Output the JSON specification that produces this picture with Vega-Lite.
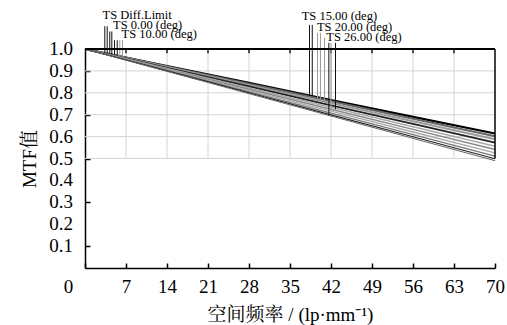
{
  "$schema": "https://vega.github.io/schema/vega-lite/v6.json",
  "width": 410,
  "height": 219,
  "autosize": "none",
  "padding": {"left": 85, "top": 49, "right": 12, "bottom": 57},
  "background": "white",
  "config": {
    "view": {"stroke": null},
    "font": "Liberation Serif",
    "axis": {
      "grid": false,
      "domainColor": "black", "domainWidth": 1.5,
      "tickColor": "black", "tickWidth": 1.5, "tickSize": -5,
      "labelFont": "Liberation Serif", "labelFontSize": 19, "labelColor": "black",
      "labelOverlap": false, "labelFlush": false, "labelBound": false,
      "titleFont": "Liberation Serif, Noto Serif CJK SC, Noto Sans CJK SC",
      "titleFontSize": 19, "titleFontWeight": "normal", "titleColor": "black"
    },
    "axisX": {"labelPadding": 14, "titlePadding": 9},
    "axisY": {"titlePadding": 45}
  },
  "datasets": {
    "vgrid": [{"x": 7}, {"x": 14}, {"x": 21}, {"x": 28}, {"x": 35}, {"x": 42}, {"x": 49}, {"x": 56}, {"x": 63}],
    "hgrid": [{"y": 0.5}, {"y": 0.6}, {"y": 0.7}, {"y": 0.8}, {"y": 0.9}],
    "ylabels": [{"y": 0.1}, {"y": 0.2}, {"y": 0.3}, {"y": 0.4}, {"y": 0.5}, {"y": 0.6}, {"y": 0.7}, {"y": 0.8}, {"y": 0.9}, {"y": 1.0}],
    "curves": [
      {"series": "Diff.Limit", "x": 0, "y": 1}, {"series": "Diff.Limit", "x": 14, "y": 0.922}, {"series": "Diff.Limit", "x": 28, "y": 0.845}, {"series": "Diff.Limit", "x": 42, "y": 0.767}, {"series": "Diff.Limit", "x": 56, "y": 0.69}, {"series": "Diff.Limit", "x": 70, "y": 0.614},
      {"series": "0.00", "x": 0, "y": 1}, {"series": "0.00", "x": 14, "y": 0.92}, {"series": "0.00", "x": 28, "y": 0.841}, {"series": "0.00", "x": 42, "y": 0.761}, {"series": "0.00", "x": 56, "y": 0.682}, {"series": "0.00", "x": 70, "y": 0.602},
      {"series": "10.00 T", "x": 0, "y": 1}, {"series": "10.00 T", "x": 14, "y": 0.918}, {"series": "10.00 T", "x": 28, "y": 0.835}, {"series": "10.00 T", "x": 42, "y": 0.753}, {"series": "10.00 T", "x": 56, "y": 0.67}, {"series": "10.00 T", "x": 70, "y": 0.588},
      {"series": "10.00 S", "x": 0, "y": 1}, {"series": "10.00 S", "x": 14, "y": 0.914}, {"series": "10.00 S", "x": 28, "y": 0.829}, {"series": "10.00 S", "x": 42, "y": 0.743}, {"series": "10.00 S", "x": 56, "y": 0.658}, {"series": "10.00 S", "x": 70, "y": 0.572},
      {"series": "15.00 T", "x": 0, "y": 1}, {"series": "15.00 T", "x": 14, "y": 0.911}, {"series": "15.00 T", "x": 28, "y": 0.822}, {"series": "15.00 T", "x": 42, "y": 0.734}, {"series": "15.00 T", "x": 56, "y": 0.645}, {"series": "15.00 T", "x": 70, "y": 0.556},
      {"series": "15.00 S", "x": 0, "y": 1}, {"series": "15.00 S", "x": 14, "y": 0.908}, {"series": "15.00 S", "x": 28, "y": 0.816}, {"series": "15.00 S", "x": 42, "y": 0.725}, {"series": "15.00 S", "x": 56, "y": 0.633}, {"series": "15.00 S", "x": 70, "y": 0.541},
      {"series": "20.00 T", "x": 0, "y": 1}, {"series": "20.00 T", "x": 14, "y": 0.905}, {"series": "20.00 T", "x": 28, "y": 0.81}, {"series": "20.00 T", "x": 42, "y": 0.716}, {"series": "20.00 T", "x": 56, "y": 0.621}, {"series": "20.00 T", "x": 70, "y": 0.526},
      {"series": "20.00 S", "x": 0, "y": 1}, {"series": "20.00 S", "x": 14, "y": 0.902}, {"series": "20.00 S", "x": 28, "y": 0.804}, {"series": "20.00 S", "x": 42, "y": 0.707}, {"series": "20.00 S", "x": 56, "y": 0.609}, {"series": "20.00 S", "x": 70, "y": 0.511},
      {"series": "26.00 T", "x": 0, "y": 1}, {"series": "26.00 T", "x": 14, "y": 0.9}, {"series": "26.00 T", "x": 28, "y": 0.8}, {"series": "26.00 T", "x": 42, "y": 0.699}, {"series": "26.00 T", "x": 56, "y": 0.599}, {"series": "26.00 T", "x": 70, "y": 0.499},
      {"series": "26.00 S", "x": 0, "y": 1}, {"series": "26.00 S", "x": 14, "y": 0.898}, {"series": "26.00 S", "x": 28, "y": 0.796}, {"series": "26.00 S", "x": 42, "y": 0.694}, {"series": "26.00 S", "x": 56, "y": 0.592}, {"series": "26.00 S", "x": 70, "y": 0.49}
    ],
    "leadersBlack": [
      {"x": 3.38, "y": 1.104, "y2": 0.981}, {"x": 3.79, "y": 1.104, "y2": 0.979},
      {"x": 4.23, "y": 1.08, "y2": 0.977}, {"x": 4.58, "y": 1.08, "y2": 0.975},
      {"x": 5.04, "y": 1.04, "y2": 0.972}, {"x": 5.5, "y": 1.04, "y2": 0.97},
      {"x": 38.33, "y": 1.11, "y2": 0.787}, {"x": 38.8, "y": 1.11, "y2": 0.785},
      {"x": 41.63, "y": 1.028, "y2": 0.697}, {"x": 42.77, "y": 1.028, "y2": 0.725}
    ],
    "leadersGray": [
      {"x": 5.94, "y": 1.04, "y2": 0.967}, {"x": 6.4, "y": 1.04, "y2": 0.965},
      {"x": 39.7, "y": 1.074, "y2": 0.775}, {"x": 40.2, "y": 1.074, "y2": 0.765},
      {"x": 40.9, "y": 1.05, "y2": 0.755}, {"x": 42.0, "y": 1.028, "y2": 0.73}
    ],
    "labels": [
      {"label": "TS Diff.Limit", "x": 3.0, "y": 1.135},
      {"label": "TS 0.00 (deg)", "x": 4.8, "y": 1.092},
      {"label": "TS 10.00 (deg)", "x": 6.25, "y": 1.051},
      {"label": "TS 15.00 (deg)", "x": 37.0, "y": 1.131},
      {"label": "TS 20.00 (deg)", "x": 39.6, "y": 1.084},
      {"label": "TS 26.00 (deg)", "x": 41.2, "y": 1.037}
    ]
  },
  "layer": [
    {
      "data": {"name": "vgrid"},
      "mark": {"type": "rule", "color": "#d4d4d4", "strokeWidth": 1},
      "encoding": {
        "x": {"field": "x", "type": "quantitative", "scale": {"domain": [0, 70], "nice": false}},
        "y": {"datum": 0.5, "type": "quantitative", "scale": {"domain": [0, 1], "nice": false}},
        "y2": {"datum": 1}
      }
    },
    {
      "data": {"name": "hgrid"},
      "mark": {"type": "rule", "color": "#d4d4d4", "strokeWidth": 1},
      "encoding": {
        "y": {"field": "y", "type": "quantitative", "scale": {"domain": [0, 1], "nice": false}},
        "x": {"datum": 0, "type": "quantitative", "scale": {"domain": [0, 70], "nice": false}},
        "x2": {"datum": 70}
      }
    },
    {
      "data": {"name": "vgrid"},
      "mark": {"type": "rule", "color": "black", "strokeWidth": 1.3},
      "encoding": {
        "x": {"field": "x", "type": "quantitative", "scale": {"domain": [0, 70], "nice": false}},
        "y": {"datum": 0.981, "type": "quantitative", "scale": {"domain": [0, 1], "nice": false}},
        "y2": {"datum": 1}
      }
    },
    {
      "data": {"name": "curves"},
      "mark": {"type": "line"},
      "encoding": {
        "x": {
          "field": "x", "type": "quantitative",
          "scale": {"domain": [0, 70], "nice": false},
          "axis": {
            "values": [0, 7, 14, 21, 28, 35, 42, 49, 56, 63, 70],
            "title": "空间频率 / (lp·mm⁻¹)",
            "labelOffset": {"condition": {"test": "datum.value === 0", "value": -17}, "value": 0}
          }
        },
        "y": {
          "field": "y", "type": "quantitative",
          "scale": {"domain": [0, 1], "nice": false},
          "axis": {
            "values": [0.1, 0.2, 0.3, 0.4, 0.5, 0.6, 0.7, 0.8, 0.9, 1.0],
            "labels": false,
            "title": "MTF值"
          }
        },
        "detail": {"field": "series"},
        "color": {
          "field": "series", "type": "nominal", "legend": null,
          "scale": {
            "domain": ["Diff.Limit", "0.00", "10.00 T", "10.00 S", "15.00 T", "15.00 S", "20.00 T", "20.00 S", "26.00 T", "26.00 S"],
            "range": ["#000000", "#666666", "#9a9a9a", "#222222", "#aaaaaa", "#888888", "#aaaaaa", "#777777", "#222222", "#666666"]
          }
        },
        "strokeWidth": {
          "field": "series", "type": "nominal", "legend": null,
          "scale": {
            "domain": ["Diff.Limit", "0.00", "10.00 T", "10.00 S", "15.00 T", "15.00 S", "20.00 T", "20.00 S", "26.00 T", "26.00 S"],
            "range": [2.2, 1, 1, 2, 1, 1, 1, 1, 1.2, 1]
          }
        }
      }
    },
    {
      "data": {"name": "ylabels"},
      "mark": {"type": "text", "align": "right", "baseline": "middle", "dx": -12, "font": "Liberation Serif", "fontSize": 19, "color": "black"},
      "encoding": {
        "x": {"datum": 0, "type": "quantitative", "scale": {"domain": [0, 70], "nice": false}},
        "y": {"field": "y", "type": "quantitative", "scale": {"domain": [0, 1], "nice": false}},
        "text": {"field": "y", "type": "quantitative", "format": ".1f"}
      }
    },
    {
      "data": {"name": "leadersGray"},
      "mark": {"type": "rule", "color": "#999999", "strokeWidth": 1},
      "encoding": {
        "x": {"field": "x", "type": "quantitative", "scale": {"domain": [0, 70], "nice": false}},
        "y": {"field": "y", "type": "quantitative", "scale": {"domain": [0, 1], "nice": false}},
        "y2": {"field": "y2"}
      }
    },
    {
      "data": {"name": "leadersBlack"},
      "mark": {"type": "rule", "color": "#111111", "strokeWidth": 1},
      "encoding": {
        "x": {"field": "x", "type": "quantitative", "scale": {"domain": [0, 70], "nice": false}},
        "y": {"field": "y", "type": "quantitative", "scale": {"domain": [0, 1], "nice": false}},
        "y2": {"field": "y2"}
      }
    },
    {
      "data": {"values": [{}]},
      "mark": {"type": "rule", "color": "black", "strokeWidth": 2},
      "encoding": {
        "x": {"datum": 0, "type": "quantitative", "scale": {"domain": [0, 70], "nice": false}},
        "x2": {"datum": 70},
        "y": {"datum": 1, "type": "quantitative", "scale": {"domain": [0, 1], "nice": false}}
      }
    },
    {
      "data": {"values": [{}]},
      "mark": {"type": "rule", "color": "black", "strokeWidth": 1.5},
      "encoding": {
        "x": {"datum": 70, "type": "quantitative", "scale": {"domain": [0, 70], "nice": false}},
        "y": {"datum": 0.5, "type": "quantitative", "scale": {"domain": [0, 1], "nice": false}},
        "y2": {"datum": 1}
      }
    },
    {
      "data": {"name": "labels"},
      "mark": {"type": "text", "align": "left", "baseline": "alphabetic", "font": "Liberation Serif", "fontSize": 12.5, "color": "black"},
      "encoding": {
        "x": {"field": "x", "type": "quantitative", "scale": {"domain": [0, 70], "nice": false}},
        "y": {"field": "y", "type": "quantitative", "scale": {"domain": [0, 1], "nice": false}},
        "text": {"field": "label"}
      }
    }
  ]
}
